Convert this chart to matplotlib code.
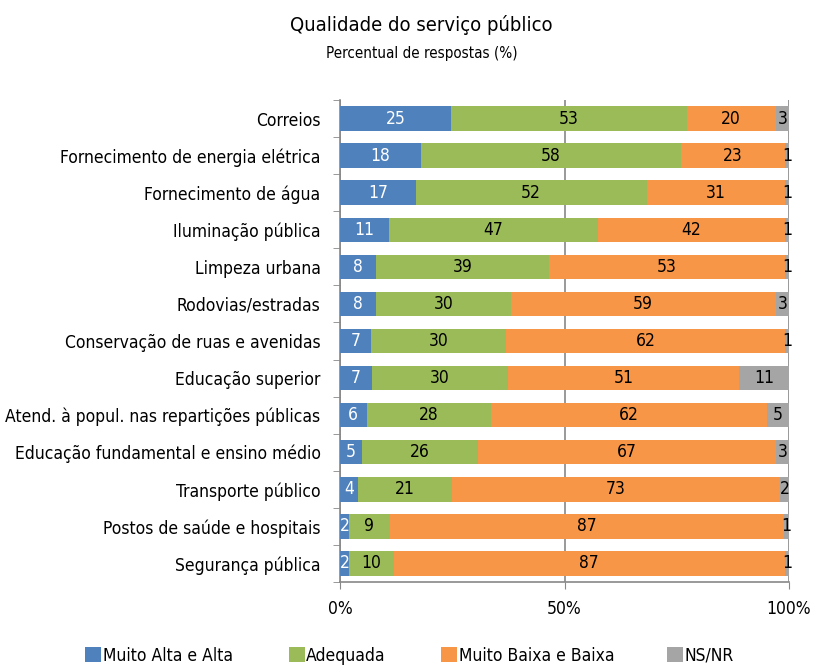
import numpy as np
import matplotlib
matplotlib.use('Agg')
import matplotlib.pyplot as plt
from matplotlib import font_manager
from matplotlib.ticker import FixedLocator

# usa DejaVu Sans Condensed se existir (parecida com a fonte estreita original)
tem_condensada = any('condensed' in f.fname.lower() and 'dejavusans' in f.fname.lower().replace(' ', '')
                     for f in font_manager.fontManager.ttflist)
plt.rcParams['font.family'] = ['DejaVu Sans']
if tem_condensada:
    plt.rcParams['font.stretch'] = 'condensed'
    tam = 12.5
else:
    plt.rcParams['font.family'] = ['Liberation Sans', 'DejaVu Sans']
    tam = 11.5

# categorias (de cima para baixo)
categorias = ['Correios', 'Fornecimento de energia elétrica', 'Fornecimento de água',
              'Iluminação pública', 'Limpeza urbana', 'Rodovias/estradas',
              'Conservação de ruas e avenidas', 'Educação superior',
              'Atend. à popul. nas repartições públicas',
              'Educação fundamental e ensino médio', 'Transporte público',
              'Postos de saúde e hospitais', 'Segurança pública']
muito_alta = [25, 18, 17, 11, 8, 8, 7, 7, 6, 5, 4, 2, 2]
adequada = [53, 58, 52, 47, 39, 30, 30, 30, 28, 26, 21, 9, 10]
muito_baixa = [20, 23, 31, 42, 53, 59, 62, 51, 62, 67, 73, 87, 87]
nsnr = [3, 1, 1, 1, 1, 3, 1, 11, 5, 3, 2, 1, 1]
series_nomes = ['Muito Alta e Alta', 'Adequada', 'Muito Baixa e Baixa', 'NS/NR']
cores = ['#4f81bd', '#9bbb59', '#f79646', '#a5a5a5']
cor_texto = ['white', 'black', 'black', 'black']

dados = np.array([muito_alta, adequada, muito_baixa, nsnr], dtype=float)
perc = dados / dados.sum(axis=0) * 100

fig = plt.figure(figsize=(8.14, 6.65), dpi=100)
ax = fig.add_axes([0.4177, 0.1248, 0.5516, 0.7248])

y = np.arange(len(categorias))
esq = np.zeros(len(categorias))
barras = []
for i in range(4):
    b = ax.barh(y, perc[i], left=esq, height=0.66, color=cores[i],
                label=series_nomes[i], zorder=3)
    barras.append(b)
    for j in range(len(categorias)):
        ax.text(esq[j] + perc[i][j] / 2, y[j], str(int(dados[i][j])),
                ha='center', va='center', fontsize=tam, color=cor_texto[i],
                zorder=4)
    esq += perc[i]

ax.set_xlim(0, 100)
ax.set_ylim(len(categorias) - 0.5, -0.5)
ax.set_yticks(y)
ax.set_yticklabels(categorias, fontsize=tam)
ax.yaxis.set_minor_locator(FixedLocator(np.arange(-0.5, len(categorias), 1)))
ax.tick_params(axis='y', which='major', length=0, pad=14)
ax.tick_params(axis='y', which='minor', length=5, color='#888888')
ax.set_xticks([0, 50, 100])
ax.set_xticklabels(['0%', '50%', '100%'], fontsize=tam)
ax.tick_params(axis='x', length=5, color='#888888', pad=8)
ax.grid(axis='x', color='#888888', linewidth=1.2, zorder=0)
for s in ['top', 'right']:
    ax.spines[s].set_visible(False)
for s in ['left', 'bottom']:
    ax.spines[s].set_color('#888888')
    ax.spines[s].set_linewidth(1.2)

fig.text(0.518, 0.962, 'Qualidade do serviço público', ha='center',
         va='center', fontsize=tam + 2)
fig.text(0.518, 0.919, 'Percentual de respostas (%)', ha='center',
         va='center', fontsize=tam - 1.6)

# legenda: uma entrada por posição, como no original
pos_leg = [0.105, 0.355, 0.542, 0.82]
for b, nome, px in zip(barras, series_nomes, pos_leg):
    fig.legend([b], [nome], loc='center left', bbox_to_anchor=(px, 0.014),
               frameon=False, fontsize=tam, handlelength=0.9,
               handleheight=0.9, handletextpad=0.1, borderpad=0,
               borderaxespad=0)

fig.savefig('out.png', dpi=100)
